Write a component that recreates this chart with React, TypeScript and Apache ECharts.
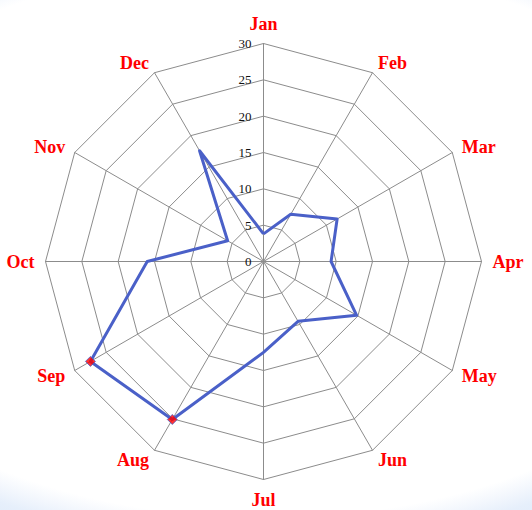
import React, { useEffect, useRef } from "react";
import * as echarts from "echarts";

const months = ["Jan", "Feb", "Mar", "Apr", "May", "Jun", "Jul", "Aug", "Sep", "Oct", "Nov", "Dec"];
const values = [3.8, 7.5, 11.7, 9.3, 14.8, 9.5, 12.5, 25.1, 27.5, 16, 5.7, 17.6];
const highlighted = ["Aug", "Sep"];
const axisMax = 30;
const tickStep = 5;

export default function App() {
  const ref = useRef<HTMLDivElement>(null);
  useEffect(() => {
    if (!ref.current) return;
    const chart = echarts.init(ref.current, undefined, { renderer: "svg" });
    // ECharts places radar indicators counter-clockwise; reorder to go clockwise.
    const order = [0, ...months.map((_, i) => i).slice(1).reverse()];
    const indicator = order.map((i, k) => ({
      name: months[i],
      min: 0,
      max: axisMax,
      axisLabel: k === 0 ? { show: true } : { show: false },
    }));
    const lineColor = "#4a60c8";
    const center = [263.5, 261.5];
    const radius = 218;
    chart.setOption({
      animation: false,
      backgroundColor: "transparent",
      radar: {
        center,
        radius,
        startAngle: 90,
        shape: "polygon",
        splitNumber: axisMax / tickStep,
        indicator,
        axisName: {
          color: "#ff0000",
          fontFamily: "Liberation Serif",
          fontWeight: "bold",
          fontSize: 18,
        },
        nameGap: 11,
        axisLine: { show: true, lineStyle: { color: "#8c8c8c", width: 1 } },
        splitLine: { show: true, lineStyle: { color: "#8c8c8c", width: 1 } },
        splitArea: { show: false },
        axisTick: { show: false },
        axisLabel: {
          show: false,
          color: "#111",
          fontFamily: "Liberation Serif",
          fontSize: 13,
          margin: 12,
        },
      },
      polar: { center, radius },
      angleAxis: {
        type: "category",
        data: months,
        boundaryGap: false,
        startAngle: 90,
        clockwise: true,
        show: false,
      },
      radiusAxis: { type: "value", min: 0, max: axisMax, show: false },
      series: [
        {
          type: "radar",
          silent: true,
          symbol: "none",
          data: [
            {
              value: order.map((i) => values[i]),
              lineStyle: { color: lineColor, width: 3 },
              itemStyle: { color: lineColor },
            },
          ],
        },
        {
          type: "scatter",
          coordinateSystem: "polar",
          silent: true,
          z: 5,
          symbol: "diamond",
          symbolSize: 10,
          itemStyle: { color: "#ff0000", borderColor: lineColor, borderWidth: 1 },
          data: highlighted.map((m) => [values[months.indexOf(m)], months.indexOf(m)]),
        },
      ],
    });
    return () => chart.dispose();
  }, []);
  return (
    <div
      ref={ref}
      style={{
        position: "absolute",
        left: 0,
        top: 0,
        width: 532,
        height: 510,
        background:
          "radial-gradient(ellipse 590px 347px at 266px 240px, #ffffff 0%, #ffffff 80%, #f3f7fd 84%, #e6effb 88%, #d9e6f8 100%)",
      }}
    />
  );
}
